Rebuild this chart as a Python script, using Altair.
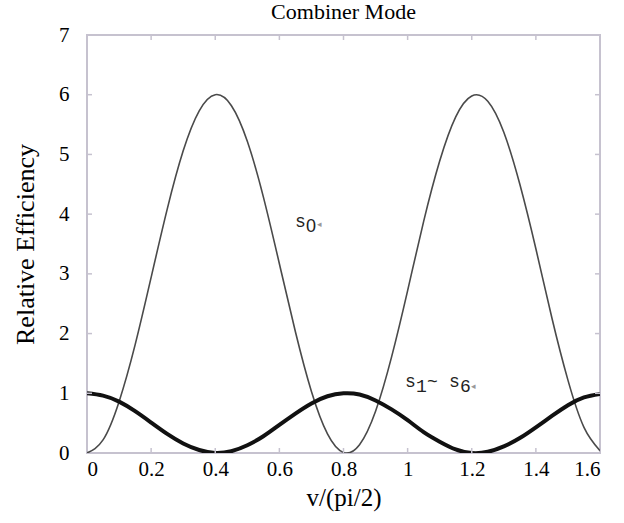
import altair as alt
import pandas as pd

# Relative efficiency versus v/(pi/2), sampled every 0.05
x_vals = [0.00, 0.05, 0.10, 0.15, 0.20, 0.25, 0.30, 0.35, 0.40, 0.45, 0.50,
          0.55, 0.60, 0.65, 0.70, 0.75, 0.80, 0.85, 0.90, 0.95, 1.00, 1.05,
          1.10, 1.15, 1.20, 1.25, 1.30, 1.35, 1.40, 1.45, 1.50, 1.55, 1.60]
s0_vals = [0.00, 0.22, 0.86, 1.81, 2.94, 4.08, 5.06, 5.73, 6.00, 5.82, 5.22,
           4.29, 3.17, 2.03, 1.03, 0.32, 0.01, 0.14, 0.70, 1.61, 2.72, 3.88,
           4.89, 5.63, 5.98, 5.89, 5.37, 4.50, 3.42, 2.26, 1.22, 0.43, 0.04]
s16_vals = [1.00, 0.96, 0.86, 0.70, 0.51, 0.32, 0.16, 0.05, 0.00, 0.03, 0.13,
            0.28, 0.47, 0.66, 0.83, 0.95, 1.00, 0.98, 0.88, 0.73, 0.55, 0.35,
            0.19, 0.06, 0.00, 0.02, 0.11, 0.25, 0.43, 0.62, 0.80, 0.93, 0.99]

x_labels = [0, 0.2, 0.4, 0.6, 0.8, 1.0, 1.2, 1.4, 1.6]
y_labels = [0, 1, 2, 3, 4, 5, 6, 7]
x_inner_ticks = [0.2, 0.4, 0.6, 0.8, 1.0, 1.2, 1.4]
y_inner_ticks = [1, 2, 3, 4, 5, 6]

W, H = 513, 418
SERIF = "Liberation Serif"
MONO = "Liberation Mono"
FRAME = "#c6c2cf"

curves = pd.DataFrame({"x": x_vals, "s0": s0_vals, "s16": s16_vals})

x_scale = alt.Scale(domain=[0, 1.6], nice=False, zero=False)
y_scale = alt.Scale(domain=[0, 7], nice=False, zero=False)

x_axis = alt.Axis(values=x_labels, format="~g", ticks=False, domain=False, grid=False,
                  labelFont=SERIF, labelFontSize=21, labelColor="black",
                  labelPadding=5, title="v/(pi/2)", titleFont=SERIF,
                  titleFontSize=25, titleFontWeight="normal", titleColor="black",
                  titleBaseline="middle", titleY=44)
y_axis = alt.Axis(values=y_labels, format="d", ticks=False, domain=False, grid=False,
                  labelFont=SERIF, labelFontSize=21, labelColor="black",
                  labelPadding=18, title="Relative Efficiency", titleFont=SERIF,
                  titleFontSize=26, titleFontWeight="normal", titleColor="black",
                  titleAngle=270, titleBaseline="middle", titleAlign="center",
                  titleX=-62, titleY=H / 2)

base = alt.Chart(curves)

s0_line = base.mark_line(color="#4a4a4a", strokeWidth=1.6, interpolate="natural",
                         clip=True).encode(
    x=alt.X("x:Q", scale=x_scale, axis=x_axis),
    y=alt.Y("s0:Q", scale=y_scale, axis=y_axis),
)
s16_line = base.mark_line(color="#111111", strokeWidth=4, interpolate="natural",
                          clip=True).encode(
    x=alt.X("x:Q", scale=x_scale),
    y=alt.Y("s16:Q", scale=y_scale),
)

# Inward tick marks on all four sides of the box
xt = alt.Chart(pd.DataFrame({"t": x_inner_ticks}))
yt = alt.Chart(pd.DataFrame({"t": y_inner_ticks}))
tick_style = dict(color=FRAME, strokeWidth=1.5)
ticks_bottom = xt.mark_rule(**tick_style).encode(
    x=alt.X("t:Q", scale=x_scale), y=alt.value(H), y2=alt.value(H - 5))
ticks_top = xt.mark_rule(**tick_style).encode(
    x=alt.X("t:Q", scale=x_scale), y=alt.value(0), y2=alt.value(5))
ticks_left = yt.mark_rule(**tick_style).encode(
    y=alt.Y("t:Q", scale=y_scale), x=alt.value(0), x2=alt.value(5))
ticks_right = yt.mark_rule(**tick_style).encode(
    y=alt.Y("t:Q", scale=y_scale), x=alt.value(W), x2=alt.value(W - 5))

# Curve labels, one glyph per row: letters on a baseline, digits set lower
STEP = 0.0343  # one monospace character advance in x units
letters = pd.DataFrame({
    "text": ["s", "s", "~", "s"],
    "x": [0.649, 0.992, 0.992 + 2 * STEP, 0.992 + 4 * STEP],
    "y": [3.785, 1.105, 1.105, 1.105],
})
digits = pd.DataFrame({
    "text": ["1", "6"],
    "x": [0.992 + STEP, 0.992 + 5 * STEP],
    "y": [1.02, 1.02],
})
zero_digit = pd.DataFrame({"text": ["0"], "x": [0.649 + STEP], "y": [3.70]})
marks = pd.DataFrame({"text": ["\u25c2", "\u25c2"],
                      "x": [0.649 + 2 * STEP, 0.992 + 6 * STEP], "y": [3.83, 1.12]})

glyph_style = dict(font=MONO, fontSize=18, align="left", baseline="alphabetic",
                   color="#222222")
label_letters = alt.Chart(letters).mark_text(**glyph_style).encode(
    x=alt.X("x:Q", scale=x_scale), y=alt.Y("y:Q", scale=y_scale), text="text:N")
label_digits = alt.Chart(digits).mark_text(**glyph_style).encode(
    x=alt.X("x:Q", scale=x_scale), y=alt.Y("y:Q", scale=y_scale), text="text:N")
label_zero = alt.Chart(zero_digit).mark_text(
    font="Liberation Sans", fontSize=18, align="left", baseline="alphabetic",
    color="#222222"
).encode(x=alt.X("x:Q", scale=x_scale), y=alt.Y("y:Q", scale=y_scale), text="text:N")
label_marks = alt.Chart(marks).mark_text(
    font="DejaVu Sans", fontSize=9, align="left", baseline="middle", color="#999999"
).encode(x=alt.X("x:Q", scale=x_scale), y=alt.Y("y:Q", scale=y_scale), text="text:N")

chart = alt.layer(
    s0_line, s16_line, ticks_bottom, ticks_top, ticks_left, ticks_right,
    label_letters, label_digits, label_zero, label_marks,
).properties(
    width=W, height=H,
    title=alt.Title("Combiner Mode", font=SERIF, fontSize=22, fontWeight="normal",
                    color="black", anchor="middle", offset=0),
    autosize=alt.AutoSizeParams(type="none"),
    padding={"left": 87, "top": 35, "right": 24, "bottom": 70},
    background="white",
).configure_view(
    stroke=FRAME, strokeWidth=2,
)

chart.save("out.html", embed_options={"renderer": "svg", "actions": False})
